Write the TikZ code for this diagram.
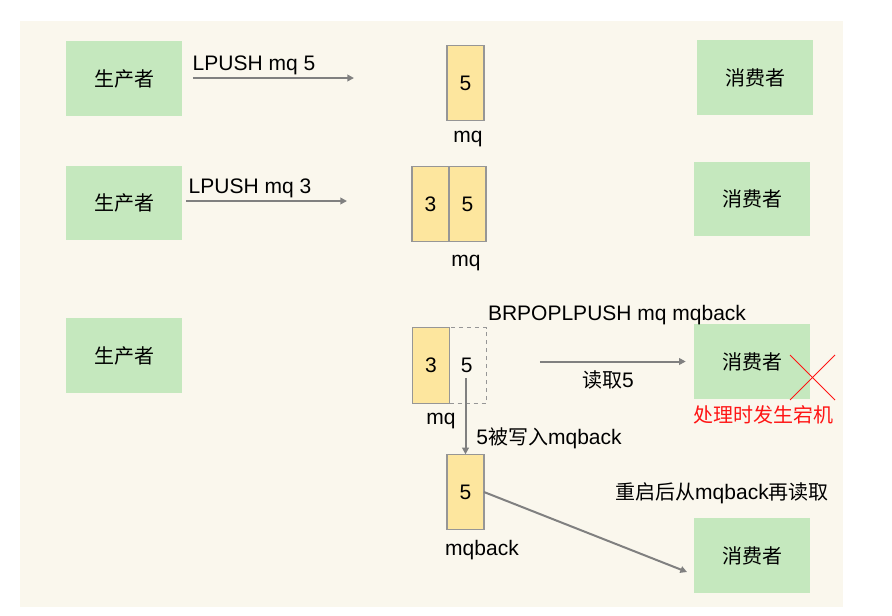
\documentclass[tikz,border=0pt]{standalone}
\usepackage{fontspec}
\setmainfont[Scale=1.05]{Liberation Sans}
\newfontfamily\cjk{Noto Sans CJK SC}
\usetikzlibrary{positioning,arrows.meta}

\definecolor{bgcream}{RGB}{250,247,237}
\definecolor{rolegreen}{RGB}{197,232,190}
\definecolor{cellyellow}{RGB}{253,230,158}
\definecolor{cellgray}{RGB}{150,150,150}
\definecolor{arrowgray}{RGB}{128,128,128}
\definecolor{alertred}{RGB}{255,20,20}

\tikzset{
  roleblk/.style={fill=rolegreen, minimum width=87pt, minimum height=56pt,
    inner sep=0pt, font=\cjk},
  qcell/.style={draw=cellgray, fill=cellyellow, line width=0.9pt,
    minimum width=27.75pt, minimum height=56.5pt, inner sep=0pt, outer sep=0pt},
  emptycell/.style={qcell, fill=none, dashed},
  flow/.style={draw=arrowgray, line width=1.5pt,
    -{Triangle[length=5pt,width=5pt]}},
  lbl/.style={inner sep=0pt},
}

\begin{document}
\begin{tikzpicture}[x=0.75pt,y=-0.75pt]
  \fontsize{15}{18}\selectfont
  \useasboundingbox (0,0) rectangle (892,615);
  \fill[bgcream] (20,21) rectangle (843,607);

  %% producers
  \node[roleblk] (prodA) at (124,78.5) {生产者};
  \node[roleblk] (prodB) at (124,203) {生产者};
  \node[roleblk] (prodC) at (124,355.5) {生产者};

  %% consumers
  \node[roleblk] (consA) at (755,77.5) {消费者};
  \node[roleblk] (consB) at (752,199) {消费者};
  \node[roleblk] (consC) at (752,361.5) {消费者};
  \node[roleblk] (consD) at (752,555.5) {消费者};

  %% queue mq, step 1
  \node[qcell] (qA) at (465.5,83) {5};
  \node[lbl] (mqA) at (468,139) {mq};

  %% queue mq, step 2
  \node[qcell] (qBl) at (430.5,204) {3};
  \node[qcell, right=0pt of qBl] (qBr) {5};
  \node[lbl] (mqB) at (466,263) {mq};

  %% queue mq, step 3 (5 popped)
  \node[qcell] (qCl) at (431,365.5) {3};
  \node[emptycell, right=0pt of qCl] (qCr) {};
  \node[lbl] (fiveC) at ([xshift=-1pt]qCr) {5};
  \node[lbl] (mqC) at (441,421) {mq};

  %% queue mqback
  \node[qcell] (qback) at (465.5,492) {5};
  \node[lbl] (mqbackL) at (482,550) {mqback};

  %% push arrows
  \coordinate (pushA) at (354,78);
  \coordinate (pushB) at (347,201);
  \draw[flow, shorten <=8pt] (prodA.east |- pushA) -- (pushA);
  \draw[flow, shorten <=3pt] (prodB.east |- pushB) -- (pushB);
  \node[lbl] (cmdA) at (254,65) {LPUSH mq 5};
  \node[lbl] (cmdB) at (250,188) {LPUSH mq 3};

  %% pop to consumer, copy to mqback
  \node[lbl] (cmdC) at (617,315) {BRPOPLPUSH mq mqback};
  \draw[flow, shorten <=40pt, shorten >=6pt] (qCr.east |- consC.west) -- (consC.west);
  \node[lbl] (readC) at (608,380) {{\cjk 读取}5};
  \draw[flow, shorten <=4pt] (fiveC.south -| qback.north) -- (qback.north);
  \node[lbl] (copyC) at (549,438) {5{\cjk 被写入}mqback};

  %% crash
  \draw[alertred, line width=0.6pt] (790,355) -- (835,400);
  \draw[alertred, line width=0.6pt] (790,400) -- (835,355);
  \node[lbl, text=alertred, font=\cjk] (crash) at (763,415) {处理时发生宕机};

  %% re-read after restart
  \coordinate (backend) at (687,572);
  \draw[flow] (qback.east) -- (backend);
  \node[lbl] (reread) at (722,493) {{\cjk 重启后从}mqback{\cjk 再读取}};

\end{tikzpicture}
\end{document}
